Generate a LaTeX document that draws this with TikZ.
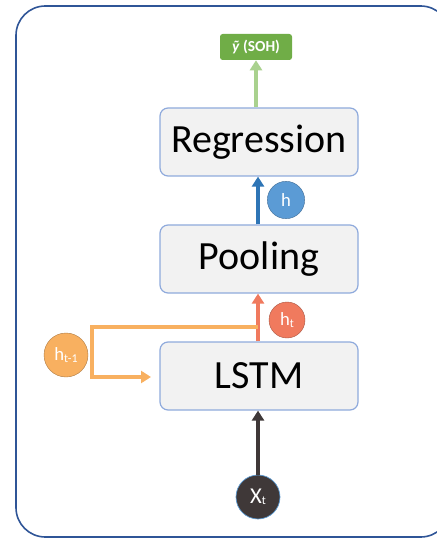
\documentclass[tikz,border=0pt]{standalone}
\usepackage{fontspec}
\setmainfont{Carlito}
\usetikzlibrary{arrows.meta}
\definecolor{frame}{HTML}{2F5597}
\definecolor{boxfill}{HTML}{F2F2F2}
\definecolor{boxline}{HTML}{8FAADC}
\definecolor{greenbox}{HTML}{70AD47}
\definecolor{greenarrow}{HTML}{A9D18E}
\definecolor{bluearrow}{HTML}{2E75B6}
\definecolor{bluecirc}{HTML}{5B9BD5}
\definecolor{coral}{HTML}{F07A5E}
\definecolor{lorange}{HTML}{F8B060}
\definecolor{darkc}{HTML}{3F3838}
\newcommand{\sbs}[1]{\raisebox{-1pt}{\fontsize{9}{9}\selectfont #1}}
\tikzset{
  layerbox/.style={draw=boxline, line width=0.9pt, fill=boxfill, rounded corners=6pt,
    minimum width=148.5pt, minimum height=51pt, font=\fontsize{30}{30}\selectfont, inner sep=0pt},
  circ/.style={circle, minimum size=#1, inner sep=0pt, text=white, font=\fontsize{14}{14}\selectfont},
  flow/.style={line width=3pt, -{Triangle[length=7.5pt,width=9pt]}},
}
\begin{document}
\begin{tikzpicture}[x=0.75pt,y=-0.75pt]
\useasboundingbox (0,0) rectangle (436,541);
\draw[frame, line width=1.2pt, rounded corners=22pt] (16,6) rectangle (450,537);
\node[fill=greenbox, rounded corners=2pt, minimum width=54pt, minimum height=19.5pt, inner sep=0pt,
  text=white, font=\bfseries\fontsize{11.5}{12}\selectfont] (out) at (256,47) {\textit{ỹ} (SOH)};
\node[layerbox] (reg) at (259,142) {Regression};
\node[layerbox] (pool) at (259,259) {Pooling};
\node[layerbox] (lstm) at (259,376) {LSTM};
\node[circ=28pt, fill=bluecirc, draw=bluecirc!70!black, line width=0.3pt] (h) at (286,200) {h};
\draw[flow, greenarrow] (reg.north -| out.south) -- (out.south);
\draw[flow, bluearrow] (pool.north -| 258,0) -- (reg.south -| 258,0);
\draw[flow, coral] (lstm.north -| 258,0) -- (pool.south -| 258,0);
\coordinate (a) at (258,327);
\coordinate (b) at (92,327);
\coordinate (c) at (92,377);
\coordinate (d) at (151,377);
\draw[line width=3pt, lorange, -{Triangle[length=7.5pt,width=9pt]}] (a) -- (b) -- (c) -- (d);
\node[circ=27pt, fill=coral, draw=coral!70!black, line width=0.3pt] (ht) at (287,320) {h\sbs{t}};
\node[circ=33pt, fill=lorange, draw=lorange!70!black, line width=0.3pt] (htm) at (66,355) {h\sbs{t-1}};
\node[circ=33pt, fill=darkc, draw=bluecirc, line width=0.5pt, font=\fontsize{17}{17}\selectfont] (x) at (258,497) {X\sbs{t}};
\draw[flow, darkc] (x.north) -- (lstm.south -| x.north);
\end{tikzpicture}
\end{document}
